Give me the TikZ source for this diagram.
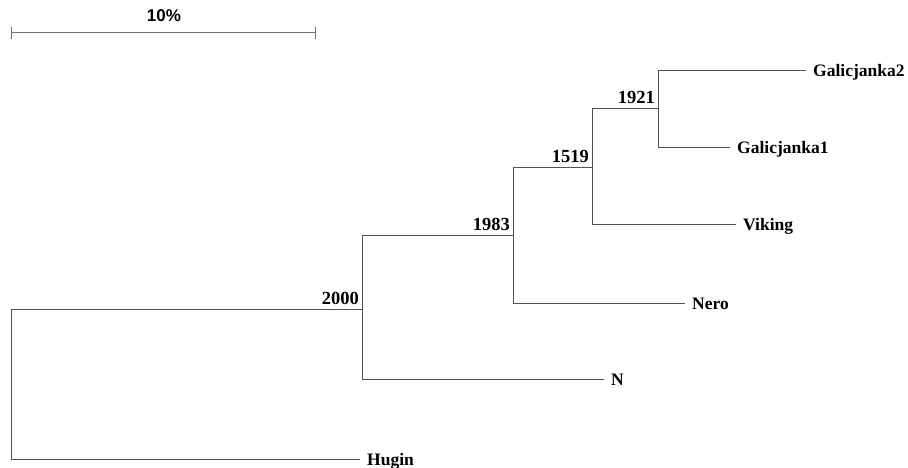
\documentclass[tikz,border=0pt]{standalone}
\usepackage{fontspec}
\setmainfont{Liberation Serif}
\setsansfont{Liberation Sans}
\begin{document}
\begin{tikzpicture}[x=1pt,y=-1pt,
  branch/.style={draw=black!68, line width=0.9pt},
  scalebar/.style={draw=black!55, line width=1pt},
  leaf/.style={anchor=west, inner xsep=7pt, inner ysep=0pt, text height=13pt, text depth=0pt,
    font=\fontsize{17.5}{19}\selectfont\bfseries},
  support/.style={anchor=south east, inner sep=0pt, font=\fontsize{18.5}{20}\selectfont\bfseries}]
\useasboundingbox (0,0) rectangle (908,468);
% internal nodes
\coordinate (r) at (11,309);
\coordinate (n2000) at (362,309);
\coordinate (n1983) at (513,235);
\coordinate (n1519) at (592,167);
\coordinate (n1921) at (658,108);
% leaves
\node[leaf] (g2) at (806,70) {Galicjanka2};
\node[leaf] (g1) at (730,147) {Galicjanka1};
\node[leaf] (vi) at (736,224) {Viking};
\node[leaf] (ne) at (685,303) {Nero};
\node[leaf] (nn) at (604,379) {N};
\node[leaf] (hu) at (360,459) {Hugin};
% branches
\draw[branch] (r) |- (n2000);
\draw[branch] (r) |- (hu.west);
\draw[branch] (n2000) |- (n1983);
\draw[branch] (n2000) |- (nn.west);
\draw[branch] (n1983) |- (n1519);
\draw[branch] (n1983) |- (ne.west);
\draw[branch] (n1519) |- (n1921);
\draw[branch] (n1519) |- (vi.west);
\draw[branch] (n1921) |- (g2.west);
\draw[branch] (n1921) |- (g1.west);
% support values
\node[support] (l2000) at ([xshift=-3pt,yshift=4pt]n2000) {2000};
\node[support] (l1983) at ([xshift=-3pt,yshift=4pt]n1983) {1983};
\node[support] (l1519) at ([xshift=-3pt,yshift=4pt]n1519) {1519};
\node[support] (l1921) at ([xshift=-3pt,yshift=4pt]n1921) {1921};
% scale bar
\coordinate (s1) at (11,33);
\coordinate (s2) at (315,33);
\draw[scalebar] (s1) -- (s2);
\draw[scalebar] ([yshift=6pt]s1) -- ([yshift=-6pt]s1);
\draw[scalebar] ([yshift=6pt]s2) -- ([yshift=-6pt]s2);
\node[anchor=base, inner sep=0pt, font=\sffamily\fontsize{17}{19}\selectfont\bfseries] (sl) at (164,22) {10\%};
\end{tikzpicture}
\end{document}
